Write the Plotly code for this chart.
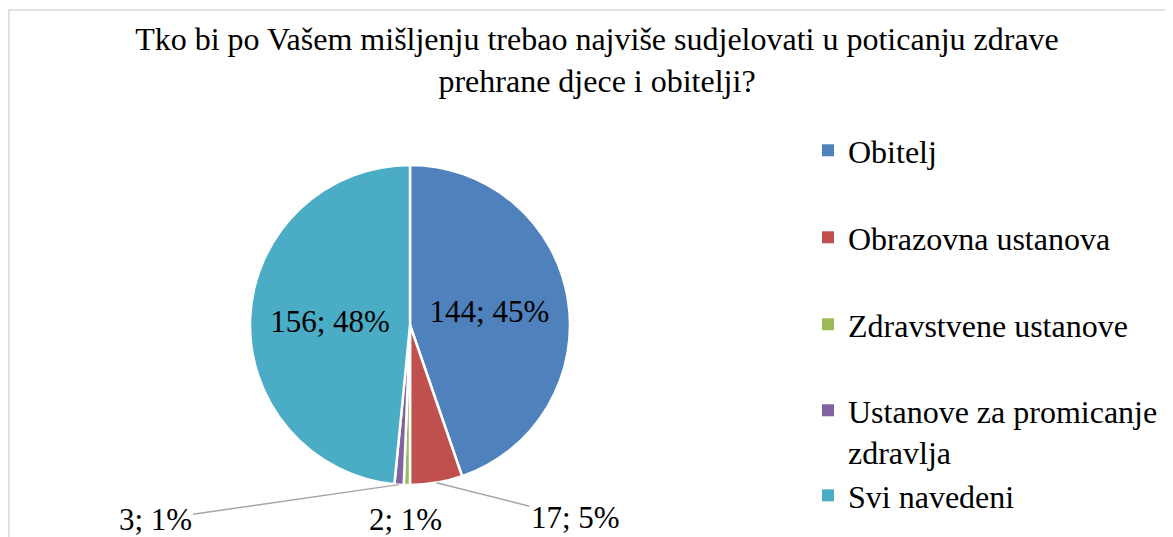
import math
import plotly.graph_objects as go

# ---- data ----
labels = ["Obitelj", "Obrazovna ustanova", "Zdravstvene ustanove",
          "Ustanove za promicanje<br>zdravlja", "Svi navedeni"]
values = [144, 17, 2, 3, 156]
colors = ["#4F81BD", "#C0504D", "#9BBB59", "#8064A2", "#4BACC6"]
title_text = ("Tko bi po Vašem mišljenju trebao najviše sudjelovati u poticanju zdrave"
              "<br>prehrane djece i obitelji?")

# page body has an 8px margin; figure sized to fit the window
OFF = 8
W, H = 1173 - OFF, 537 - OFF
FONT = "Liberation Serif"
FS = 31


def fx(x):  # window px -> paper x
    return (x - OFF) / W


def fy(y):  # window px -> paper y
    return 1 - (y - OFF) / H


# pie geometry (window pixels)
cx, cy, R = 410, 325, 160
dom_x = [fx(cx - R), fx(cx + R)]
dom_y = [fy(cy + R), fy(cy - R)]

inside_pos = ["inside", "none", "none", "none", "inside"]

fig = go.Figure()
fig.add_trace(go.Pie(
    labels=labels, values=values, sort=False, direction="clockwise", rotation=0,
    marker=dict(colors=colors, line=dict(color="white", width=2.5)),
    textposition=inside_pos, texttemplate="%{value}; %{percent:.0%}",
    insidetextorientation="horizontal",
    insidetextfont=dict(family=FONT, size=FS, color="black"),
    domain=dict(x=dom_x, y=dom_y), showlegend=False, hoverinfo="label+value+percent",
))

# outside labels for small slices (leader lines)
total = sum(values)
offsets = {1: (139, 35), 2: (-1, 35), 3: (-244, 35)}
line_col = {1: "#A6A6A6", 2: "rgba(0,0,0,0)", 3: "#A6A6A6"}
cum = 0
for i, v in enumerate(values):
    mid = (cum + v / 2) / total * 2 * math.pi
    cum += v
    if inside_pos[i] == "inside":
        continue
    px = cx + R * math.sin(mid)
    py = cy - R * math.cos(mid)
    ax, ay = offsets[i]
    fig.add_annotation(
        x=fx(px), y=fy(py), xref="paper", yref="paper",
        text=f"{v}; {round(100 * v / total)}%", showarrow=True,
        ax=ax, ay=ay, arrowhead=0, arrowwidth=1.5, arrowcolor=line_col[i],
        font=dict(family=FONT, size=FS, color="black"),
    )

# legend entries (one legend per entry, to match spacing)
leg_y = [153, 240, 327, 413, 498]
for i, (lab, col) in enumerate(zip(labels, colors)):
    lname = "legend" if i == 0 else f"legend{i + 1}"
    fig.add_trace(go.Scatter(
        x=[None], y=[None], mode="markers", name=lab,
        marker=dict(symbol="square", size=12, color=col),
        legend=lname, showlegend=True, hoverinfo="skip",
    ))
    fig.update_layout({lname: dict(
        x=(808 - OFF) / W, xanchor="left", y=fy(leg_y[i] - 30), yanchor="top",
        valign="top", bgcolor="rgba(0,0,0,0)",
        font=dict(family=FONT, size=32, color="black"),
    )})

fig.update_layout(
    width=W, height=H,
    margin=dict(l=0, r=0, t=0, b=0),
    paper_bgcolor="white", plot_bgcolor="white",
    font=dict(family=FONT, size=FS, color="black"),
    xaxis=dict(visible=False), yaxis=dict(visible=False),
    title=dict(text=title_text, x=fx(597), xanchor="center", yref="container",
               y=fy(50), yanchor="top",
               font=dict(family=FONT, size=32, color="black")),
    shapes=[dict(type="rect", xref="paper", yref="paper",
                 x0=1 / W, x1=1.05, y0=-0.05, y1=fy(10),
                 line=dict(color="#D9D9D9", width=1.5), fillcolor="rgba(0,0,0,0)",
                 layer="below")],
)

fig.write_html("out.html")
